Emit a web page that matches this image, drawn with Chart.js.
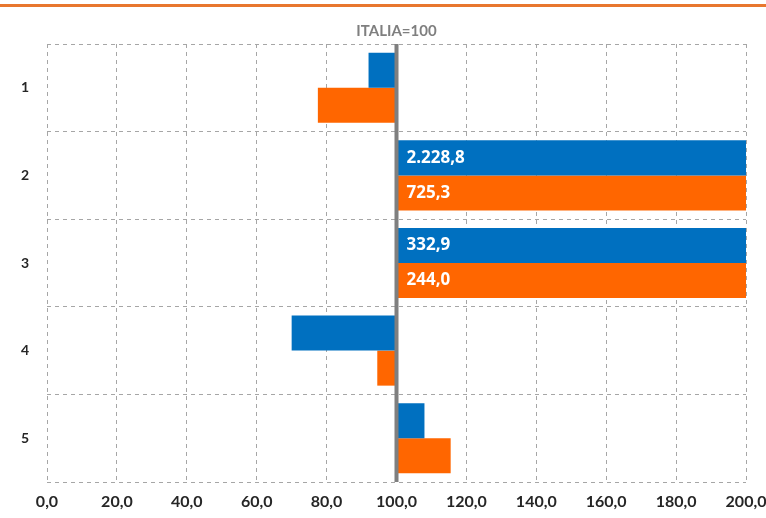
<!DOCTYPE html>
<html>
<head>
<meta charset="utf-8">
<script src="https://cdn.jsdelivr.net/npm/chart.js@4"></script>
<style>
  body { margin: 0; background: #fff; }
</style>
</head>
<body>
<canvas id="grafico" width="766" height="518"></canvas>
<script>
const categorie = ["1", "2", "3", "4", "5"];
const valoriBlu = [92.0, 2228.8, 332.9, 70.0, 108.0];
const valoriArancio = [77.5, 725.3, 244.0, 94.5, 115.5];
const base = 100;
const tickX = [0, 20, 40, 60, 80, 100, 120, 140, 160, 180, 200];

function formatoIt(v) {
  const parti = v.toFixed(1).split(".");
  const intero = parti[0].replace(/\B(?=(\d{3})+(?!\d))/g, ".");
  return intero + "," + parti[1];
}

// barre flottanti che partono da 100 (ITALIA=100)
function daBase(valori) {
  return valori.map((v) => [base, v]);
}

const pluginExtra = {
  id: "extra",
  beforeDraw(chart) {
    const ctx = chart.ctx;
    ctx.save();
    // linea arancione in alto
    ctx.fillStyle = "#E8772E";
    ctx.fillRect(0, 4, chart.width, 3);
    ctx.restore();
  },
  afterDatasetsDraw(chart) {
    const ctx = chart.ctx;
    const x = chart.scales.x;
    const area = chart.chartArea;
    const px = x.getPixelForValue(base);

    ctx.save();
    // linea verticale grigia a 100
    ctx.strokeStyle = "#7F7F7F";
    ctx.lineWidth = 4;
    ctx.beginPath();
    ctx.moveTo(px, area.top);
    ctx.lineTo(px, area.bottom);
    ctx.stroke();

    // titolo ITALIA=100
    ctx.fillStyle = "#7F7F7F";
    ctx.font = "bold 15px Lato";
    ctx.textAlign = "center";
    ctx.textBaseline = "bottom";
    ctx.fillText("ITALIA=100", px, area.top - 5);

    // etichette per le barre fuori scala
    ctx.font = "bold 17px 'Open Sans'";
    ctx.fillStyle = "#FFFFFF";
    ctx.textAlign = "left";
    ctx.textBaseline = "middle";
    chart.data.datasets.forEach((ds, i) => {
      const meta = chart.getDatasetMeta(i);
      meta.data.forEach((bar, j) => {
        const valore = ds.data[j][1];
        if (valore > x.max) {
          ctx.fillText(formatoIt(valore), px + 10, bar.y);
        }
      });
    });
    ctx.restore();
  },
};

const ctx = document.getElementById("grafico").getContext("2d");

new Chart(ctx, {
  type: "bar",
  data: {
    labels: categorie,
    datasets: [
      {
        label: "Serie 1",
        data: daBase(valoriBlu),
        backgroundColor: "#0070C0",
        borderWidth: 0,
        categoryPercentage: 0.8,
        barPercentage: 1.0,
      },
      {
        label: "Serie 2",
        data: daBase(valoriArancio),
        backgroundColor: "#FF6600",
        borderWidth: 0,
        categoryPercentage: 0.8,
        barPercentage: 1.0,
      },
    ],
  },
  options: {
    indexAxis: "y",
    responsive: false,
    animation: false,
    layout: {
      padding: { top: 44, right: 20, left: 0, bottom: 0 },
    },
    plugins: {
      legend: { display: false },
      tooltip: { enabled: false },
    },
    scales: {
      x: {
        min: 0,
        max: 200,
        afterBuildTicks(scale) {
          scale.ticks = tickX.map((v) => ({ value: v }));
        },
        afterFit(scale) {
          scale.height = 36;
          scale.paddingLeft = 0;
          scale.paddingRight = 0;
        },
        ticks: {
          callback: (v) => formatoIt(v),
          color: "#262626",
          font: { family: "Lato", size: 16, weight: "bold" },
          padding: 10,
          maxRotation: 0,
        },
        grid: {
          color: "#A6A6A6",
          lineWidth: 1,
          drawTicks: false,
        },
        border: {
          display: false,
          dash: [4, 4],
        },
      },
      y: {
        afterFit(scale) {
          scale.width = 47;
        },
        ticks: {
          color: "#262626",
          font: { family: "Lato", size: 14, weight: "bold" },
          padding: 18,
        },
        grid: {
          color: "#A6A6A6",
          lineWidth: 1,
          drawTicks: false,
          offset: true,
        },
        border: {
          display: false,
          dash: [4, 4],
        },
      },
    },
  },
  plugins: [pluginExtra],
});
</script>
</body>
</html>
